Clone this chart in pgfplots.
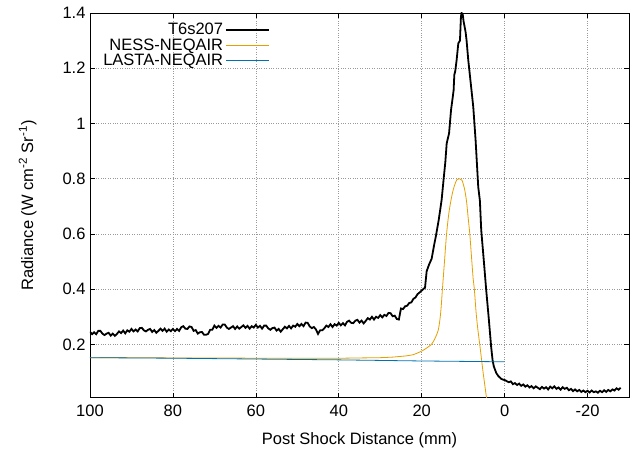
\documentclass[border=0pt]{standalone}
\usepackage{fontspec}
\setmainfont{Liberation Sans}
\usepackage{pgfplots}
\pgfplotsset{compat=1.18}
\definecolor{gpblack}{RGB}{0,0,0}
\definecolor{gporange}{RGB}{230,159,0}
\definecolor{gpblue}{RGB}{0,114,178}
\begin{document}
\begin{tikzpicture}
\begin{axis}[
  scale only axis,
  width=539pt, height=384.7pt,
  x dir=reverse,
  xmin=-30, xmax=100,
  ymin=0.007, ymax=1.4,
  xtick={-20,0,20,40,60,80,100},
  ytick={0.2,0.4,0.6,0.8,1,1.2,1.4},
  /pgf/number format/assume math mode=true,
  /pgf/number format/fixed,
  tick label style={font=\fontsize{16.5}{18}\selectfont},
  xticklabel style={yshift=-4pt},
  yticklabel style={xshift=-1pt},
  label style={font=\fontsize{16.5}{18}\selectfont},
  xlabel={Post Shock Distance (mm)},
  ylabel={Radiance (W cm\textsuperscript{-2} Sr\textsuperscript{-1})},
  xlabel style={yshift=-9pt},
  ylabel style={yshift=19pt},
  grid=major,
  grid style={dotted, gray!80, line width=0.6pt},
  tick align=inside,
  major tick length=5pt,
  tick style={black, line width=0.6pt},
  axis line style={line width=0.9pt},
  legend cell align=right,
  legend plot pos=right,
  legend style={draw=none, fill=none, at={(0.336,0.982)}, anchor=north east,
    font=\fontsize{16.5}{18}\selectfont, row sep=-1.5pt, inner sep=1pt,
    /tikz/every even column/.append style={column sep=8pt}},
  legend image code/.code={\draw[#1] (0pt,0pt) -- (43pt,0pt);},
]
\addplot[gpblack, line width=1.8pt] coordinates {
(100,0.246)(99.5,0.237)(99,0.244)(98.5,0.237)(98,0.249)(97.5,0.249)(97,0.239)(96.5,0.234)(96,0.239)(95.5,0.242)
(95,0.232)(94.5,0.239)(94,0.231)(93.5,0.238)(93,0.247)(92.5,0.241)(92,0.250)(91.5,0.240)(91,0.251)(90.5,0.246)
(90,0.256)(89.5,0.247)(89,0.254)(88.5,0.247)(88,0.259)(87.5,0.260)(87,0.251)(86.5,0.247)(86,0.253)(85.5,0.256)
(85,0.245)(84.5,0.252)(84,0.242)(83.5,0.249)(83,0.257)(82.5,0.249)(82,0.257)(81.5,0.246)(81,0.254)(80.5,0.248)
(80,0.256)(79.5,0.248)(79,0.256)(78.5,0.249)(78,0.262)(77.5,0.266)(77,0.257)(76.5,0.256)(76,0.265)(75.5,0.263)
(75,0.249)(74.5,0.252)(74,0.239)(73.5,0.244)(73,0.245)(72.5,0.235)(72,0.235)(71.5,0.238)(71,0.253)(70.5,0.253)
(70,0.268)(69.5,0.260)(69,0.267)(68.5,0.261)(68,0.272)(67.5,0.272)(67,0.261)(66.5,0.256)(66,0.261)(65.5,0.266)
(65,0.256)(64.5,0.265)(64,0.257)(63.5,0.263)(63,0.269)(62.5,0.260)(62,0.267)(61.5,0.257)(61,0.266)(60.5,0.261)
(60,0.271)(59.5,0.261)(59,0.267)(58.5,0.257)(58,0.268)(57.5,0.268)(57,0.258)(56.5,0.253)(56,0.259)(55.5,0.261)
(55,0.250)(54.5,0.256)(54,0.246)(53.5,0.255)(53,0.264)(52.5,0.258)(52,0.267)(51.5,0.258)(51,0.268)(50.5,0.264)
(50,0.274)(49.5,0.266)(49,0.274)(48.5,0.266)(48,0.279)(47.5,0.278)(47,0.265)(46.5,0.259)(46,0.263)(45.5,0.254)
(45,0.238)(44.5,0.251)(44,0.251)(43.5,0.258)(43,0.268)(42.5,0.263)(42,0.273)(41.5,0.263)(41,0.273)(40.5,0.268)
(40,0.278)(39.5,0.269)(39,0.277)(38.5,0.269)(38,0.282)(37.5,0.286)(37,0.278)(36.5,0.277)(36,0.286)(35.5,0.289)
(35,0.279)(34.5,0.286)(34,0.276)(33.5,0.285)(33,0.295)(32.5,0.290)(32,0.300)(31.5,0.290)(31,0.300)(30.5,0.296)
(30,0.306)(29.5,0.298)(29,0.307)(28.5,0.303)(28,0.314)(27.5,0.313)(27,0.302)(26.5,0.304)(26,0.292)(25.5,0.290)
(25,0.330)(24.5,0.328)(24,0.338)(23.5,0.340)(23,0.350)(22.5,0.352)(22,0.365)(21.5,0.370)(21,0.382)(20.5,0.388)
(20,0.395)(19.5,0.402)(19.2,0.405)(18.8,0.465)(18.2,0.49)(17.6,0.51)(17.0,0.56)(16.6,0.59)(15.9,0.65)(15.2,0.722)
(14.7,0.80)(14.3,0.86)(13.97,0.928)(13.4,0.964)(12.92,1.049)(12.6,1.085)(12.3,1.12)(12.13,1.176)(11.9,1.19)(11.57,1.23)
(11.17,1.29)(10.77,1.30)(10.53,1.387)(10.37,1.40)(10.1,1.395)(9.9,1.37)(9.73,1.357)(9.4,1.33)(9.17,1.30)(8.77,1.23)
(8.2,1.15)(7.56,1.06)(7.0,0.94)(6.36,0.77)(5.96,0.72)(5.64,0.614)(5.0,0.50)(4.44,0.397)(3.8,0.29)(3.24,0.19)
(2.9,0.143)(2.6,0.12)(2.0,0.096)(1.5,0.085)(0.8,0.075)(0.3,0.072)(-0.2,0.070)(-0.6,0.066)
(-1,0.063)(-1.5,0.066)(-2,0.056)(-2.5,0.060)(-3,0.053)(-3.5,0.058)(-4,0.050)(-4.5,0.055)(-5,0.047)(-5.5,0.052)
(-6,0.044)(-6.5,0.049)(-7,0.041)(-7.5,0.048)(-8,0.043)(-8.5,0.038)(-9,0.046)(-9.5,0.040)(-10,0.045)(-10.5,0.037)
(-11,0.047)(-11.5,0.041)(-12,0.048)(-12.5,0.039)(-13,0.044)(-13.5,0.036)(-14,0.045)(-14.5,0.039)(-15,0.043)(-15.5,0.034)
(-16,0.039)(-16.5,0.031)(-17,0.037)(-17.5,0.030)(-18,0.035)(-18.5,0.028)(-19,0.033)(-19.5,0.027)(-20,0.032)(-20.5,0.026)
(-21,0.033)(-21.5,0.027)(-22,0.030)(-22.5,0.025)(-23,0.032)(-23.5,0.027)(-24,0.034)(-24.5,0.028)(-25,0.035)(-25.5,0.030)
(-26,0.037)(-26.5,0.033)(-27,0.041)(-27.5,0.036)(-28,0.043)
};
\addlegendentry{T6s207}
\addplot[gporange, line width=0.8pt, smooth] coordinates {
(100,0.152)(90,0.152)(80,0.151)(70,0.151)(60,0.150)(50,0.150)(40,0.150)(35,0.151)(30,0.152)(27,0.154)
(25.6,0.156)(24,0.158)(22,0.163)(20.4,0.173)(19.5,0.180)(18.5,0.190)(17.8,0.198)(17.2,0.21)(16.6,0.228)(16.0,0.252)
(15.6,0.29)(15.3,0.336)(15.0,0.40)(14.5,0.50)(14.0,0.60)(13.4,0.68)(12.7,0.74)(12.1,0.775)(11.5,0.797)(10.9,0.80)
(10.3,0.795)(9.7,0.765)(9.2,0.72)(8.8,0.66)(8.4,0.60)(8.0,0.52)(7.6,0.44)(7.3,0.40)(6.9,0.32)(6.5,0.26)
(6.0,0.20)(5.6,0.15)(5.2,0.10)(4.8,0.055)(4.4,0.01)(4.2,-0.01)
};
\addlegendentry{NESS-NEQAIR}
\addplot[gpblue, line width=0.8pt] coordinates {
(100,0.152)(80,0.150)(60,0.147)(40,0.144)(20,0.140)(0,0.137)
};
\addlegendentry{LASTA-NEQAIR}
\end{axis}
\pgfresetboundingbox
\path ([shift={(-90pt,-55.3pt)}]current axis.south west) rectangle ([shift={(10pt,13pt)}]current axis.north east);
\end{tikzpicture}
\end{document}
